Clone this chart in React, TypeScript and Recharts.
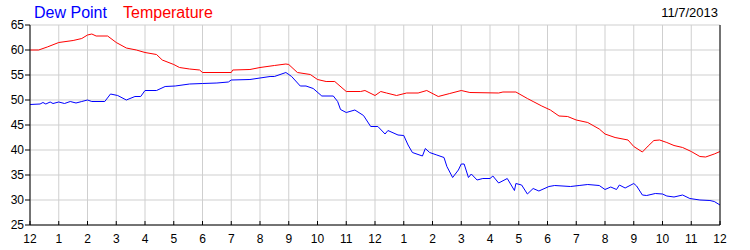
import React from "react";
import { LineChart, Line, XAxis, YAxis, CartesianGrid } from "recharts";

// hour ticks across the day, labelled on a 12h clock
const hourTicks = [0, 1, 2, 3, 4, 5, 6, 7, 8, 9, 10, 11, 12, 13, 14, 15, 16, 17, 18, 19, 20, 21, 22, 23, 24];
const hourLabels = ["12", "1", "2", "3", "4", "5", "6", "7", "8", "9", "10", "11", "12", "1", "2", "3", "4", "5", "6", "7", "8", "9", "10", "11", "12"];
const tempTicks = [25, 30, 35, 40, 45, 50, 55, 60, 65];

const seriesNames = ["Dew Point", "Temperature"];
const dateLabel = "11/7/2013";

const tempHours = [
  0, 0.3, 0.6, 1.0, 1.5, 1.8, 2.0, 2.15, 2.3, 2.7, 3.0, 3.35, 3.7, 4.0, 4.4, 4.6, 5.0, 5.2, 5.55, 5.9,
  6.0, 7.0, 7.05, 7.65, 8.0, 8.5, 8.9, 9.0, 9.3, 9.75, 10.0, 10.3, 10.6, 11.0, 11.5, 11.65, 12.0, 12.2, 12.4, 12.75,
  13.1, 13.5, 13.8, 14.2, 14.6, 15.0, 15.3, 16.3, 16.45, 16.9, 17.3, 17.5, 17.8, 18.1, 18.4, 18.7, 19.0, 19.4, 19.8, 20.0,
  20.35, 20.8, 21.0, 21.3, 21.5, 21.7, 21.9, 22.15, 22.4, 22.7, 23.0, 23.3, 23.5, 23.8, 24.0,
];
const tempValues = [
  60.0, 60.0, 60.6, 61.5, 61.9, 62.3, 63.0, 63.2, 62.8, 62.8, 61.5, 60.4, 60.0, 59.5, 59.1, 58.0, 57.1, 56.5, 56.2, 56.0,
  55.5, 55.5, 56.0, 56.1, 56.5, 56.9, 57.2, 57.1, 55.5, 55.1, 54.1, 53.7, 53.7, 51.7, 51.7, 51.9, 50.9, 51.7, 51.4, 50.9,
  51.4, 51.4, 51.9, 50.7, 51.3, 51.9, 51.5, 51.4, 51.6, 51.6, 50.3, 49.7, 48.8, 48.0, 46.8, 46.7, 46.0, 45.5, 44.2, 43.2,
  42.5, 42.0, 40.7, 39.6, 40.8, 41.9, 42.0, 41.5, 40.9, 40.5, 39.7, 38.7, 38.6, 39.2, 39.7,
];

const dewHours = [
  0, 0.35, 0.45, 0.55, 0.7, 0.8, 1.0, 1.2, 1.4, 1.6, 1.8, 2.0, 2.15, 2.6, 2.8, 3.05, 3.35, 3.65, 3.85, 4.0,
  4.4, 4.7, 5.05, 5.55, 6.0, 6.5, 6.9, 7.0, 7.65, 8.35, 8.5, 8.9, 9.1, 9.4, 9.6, 9.85, 10.15, 10.55, 10.7, 10.8,
  11.0, 11.3, 11.6, 11.85, 12.1, 12.35, 12.45, 12.8, 13.0, 13.15, 13.3, 13.65, 13.75, 13.9, 14.15, 14.4, 14.5, 14.7, 14.9, 15.0,
  15.1, 15.25, 15.35, 15.55, 15.75, 16.0, 16.1, 16.3, 16.6, 16.85, 16.9, 17.1, 17.3, 17.5, 17.7, 18.05, 18.25, 18.8, 19.1, 19.4,
  19.8, 20.0, 20.2, 20.4, 20.5, 20.7, 21.0, 21.1, 21.3, 21.45, 21.75, 22.0, 22.15, 22.4, 22.7, 22.95, 23.3, 23.65, 23.8, 24.0,
];
const dewValues = [
  49.1, 49.2, 49.5, 49.2, 49.6, 49.3, 49.6, 49.3, 49.7, 49.4, 49.7, 50.0, 49.7, 49.7, 51.2, 50.9, 50.0, 50.7, 50.7, 51.9,
  51.9, 52.7, 52.8, 53.2, 53.3, 53.4, 53.6, 54.0, 54.1, 54.7, 54.7, 55.5, 54.7, 52.8, 52.8, 52.3, 50.8, 50.8, 49.7, 48.1,
  47.5, 48.0, 46.9, 44.7, 44.7, 43.2, 43.9, 43.0, 42.9, 41.0, 39.5, 38.8, 40.3, 39.5, 39.0, 38.5, 36.7, 34.5, 36.0, 37.2,
  37.2, 34.5, 35.2, 34.0, 34.3, 34.3, 34.8, 33.4, 34.3, 31.9, 33.3, 33.0, 31.2, 32.3, 31.8, 32.7, 32.9, 32.7, 32.9, 33.1,
  32.9, 32.1, 32.6, 32.1, 33.0, 32.4, 33.3, 32.8, 31.0, 30.9, 31.3, 31.2, 30.8, 30.6, 31.0, 30.3, 30.0, 29.9, 29.7, 29.0,
];

const tempData = tempHours.map((h, i) => ({ h, v: tempValues[i] }));
const dewData = dewHours.map((h, i) => ({ h, v: dewValues[i] }));

const FONT = "'Liberation Sans', Arial, sans-serif";
const hourLabel = (h: number) => hourLabels[hourTicks.indexOf(h)] ?? "";

export default function App() {
  return (
    <div style={{ position: "absolute", left: 0, top: 0, width: 750, height: 250, background: "#fff", fontFamily: FONT }}>
      <LineChart width={750} height={250} margin={{ top: 25, right: 0, bottom: 0, left: 0 }}>
        <CartesianGrid yAxisId="left" stroke="#cfcfcf" strokeWidth={1} />
        <XAxis
          xAxisId="top"
          orientation="top"
          type="number"
          dataKey="h"
          domain={[0, 24]}
          ticks={hourTicks}
          height={0}
          tickSize={-4}
          tickFormatter={() => ""}
          axisLine={{ stroke: "#000" }}
          tickLine={{ stroke: "#000" }}
          allowDataOverflow
        />
        <XAxis
          type="number"
          dataKey="h"
          domain={[0, 24]}
          ticks={hourTicks}
          interval={0}
          height={25}
          tickSize={-4}
          tickMargin={13}
          tickFormatter={hourLabel}
          axisLine={{ stroke: "#000" }}
          tickLine={{ stroke: "#000" }}
          tick={{ fontSize: 12, fill: "#000", fontFamily: FONT }}
          allowDataOverflow
        />
        <YAxis
          yAxisId="left"
          domain={[25, 65]}
          ticks={tempTicks}
          interval={0}
          width={30}
          tickSize={5}
          tickMargin={1}
          axisLine={{ stroke: "#000" }}
          tickLine={{ stroke: "#000" }}
          tick={{ fontSize: 12, fill: "#000", fontFamily: FONT }}
        />
        <YAxis
          yAxisId="right"
          orientation="right"
          domain={[25, 65]}
          ticks={tempTicks}
          interval={0}
          width={30}
          tickSize={3}
          tickMargin={4}
          axisLine={{ stroke: "#000" }}
          tickLine={{ stroke: "#000" }}
          tick={{ fontSize: 12, fill: "#000", fontFamily: FONT, textAnchor: "start" }}
        />
        <Line
          yAxisId="left"
          data={tempData}
          dataKey="v"
          name={seriesNames[1]}
          type="linear"
          stroke="#ff0000"
          strokeWidth={1}
          dot={false}
          isAnimationActive={false}
        />
        <Line
          yAxisId="left"
          data={dewData}
          dataKey="v"
          name={seriesNames[0]}
          type="linear"
          stroke="#0000ff"
          strokeWidth={1}
          dot={false}
          isAnimationActive={false}
        />
      </LineChart>
      <svg width={750} height={25} style={{ position: "absolute", left: 0, top: 0, pointerEvents: "none" }}>
        <text x={34} y={17.5} fontSize={16} fill="#0000ff" fontFamily={FONT}>{seriesNames[0]}</text>
        <text x={123} y={17.5} fontSize={16} fill="#ff0000" fontFamily={FONT}>{seriesNames[1]}</text>
        <text x={718} y={17} fontSize={13} fill="#000" fontFamily={FONT} textAnchor="end">{dateLabel}</text>
      </svg>
    </div>
  );
}
